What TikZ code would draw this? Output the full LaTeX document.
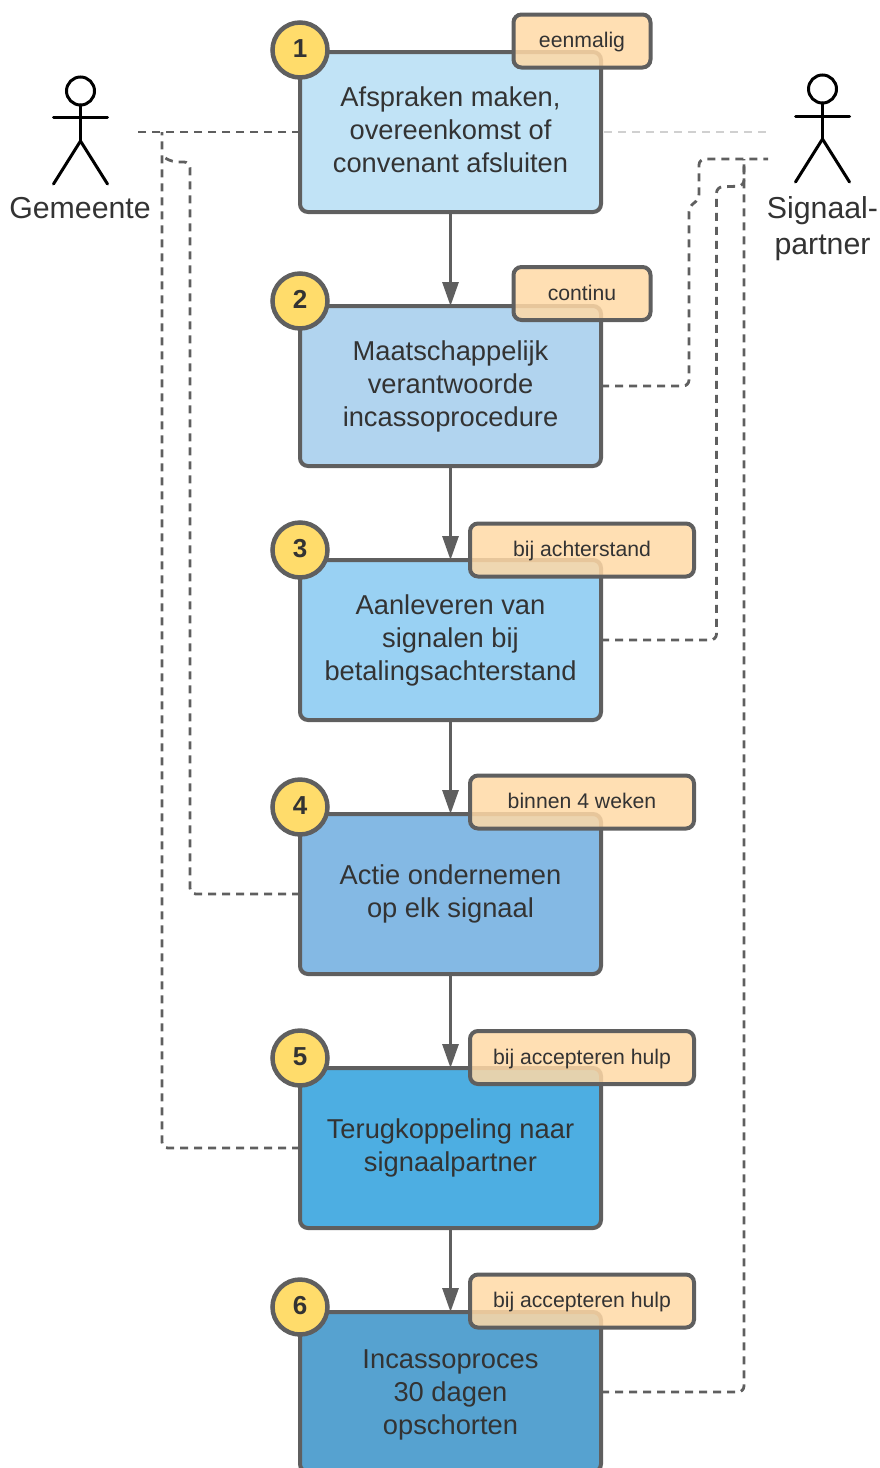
\documentclass[tikz,border=0pt]{standalone}
\usepackage{fontspec}
\setmainfont{Liberation Sans}
\usetikzlibrary{arrows.meta}
\definecolor{edge}{HTML}{5F5F5F}
\definecolor{ink}{HTML}{333333}
\definecolor{tagfill}{HTML}{FFD9A6}
\definecolor{numfill}{HTML}{FFDC6B}
\definecolor{faint}{HTML}{D0D0D0}
\tikzset{
  stepbox/.style={draw=edge,line width=4pt,rounded corners=8pt,minimum width=301pt,minimum height=160pt,
    outer sep=0pt,inner sep=0pt,align=center,text=ink,font=\fontsize{27.3}{33}\selectfont},
  tag/.style={draw=edge,line width=4pt,rounded corners=8pt,fill=tagfill,fill opacity=.85,draw opacity=1,text opacity=1,
    outer sep=0pt,inner sep=0pt,minimum height=53pt,text height=15pt,text depth=2pt,text=ink,font=\fontsize{21.2}{24}\selectfont},
  num/.style={circle,draw=edge,line width=4.5pt,fill=numfill,minimum size=55pt,inner sep=0pt,outer sep=0pt,
    text height=18pt,text depth=4pt,text=ink,font=\fontsize{26}{30}\selectfont\bfseries},
  flow/.style={draw=edge,line width=3pt,-{Triangle[width=16pt,length=24pt,fill=edge]}},
  link/.style={draw=edge,line width=2.8pt,dash pattern=on 8pt off 6pt,rounded corners=6pt},
  lightlink/.style={draw=faint,line width=2.8pt,dash pattern=on 8pt off 6pt},
  stick/.style={draw=black,line width=3pt,line cap=round},
  actor/.style={text=ink,align=center,font=\fontsize{30.3}{36}\selectfont}
}
\begin{document}
\begin{tikzpicture}[x=1pt,y=-1pt]
\useasboundingbox (0,0) rectangle (880,1468);
% process boxes
\node[stepbox,fill={rgb,255:red,193;green,227;blue,246}] (b1) at (450.5,132) {Afspraken maken,\\overeenkomst of\\convenant afsluiten\rule[-4pt]{0pt}{1pt}};
\node[stepbox,fill={rgb,255:red,177;green,212;blue,239}] (b2) at (450.5,386) {Maatschappelijk\\verantwoorde\\incassoprocedure};
\node[stepbox,fill={rgb,255:red,153;green,209;blue,243}] (b3) at (450.5,640) {Aanleveren van\\signalen bij\\betalingsachterstand};
\node[stepbox,fill={rgb,255:red,132;green,185;blue,228}] (b4) at (450.5,894) {Actie ondernemen\\op elk signaal};
\node[stepbox,fill={rgb,255:red,77;green,174;blue,226}] (b5) at (450.5,1148) {Terugkoppeling naar\\signaalpartner};
\node[stepbox,fill={rgb,255:red,86;green,162;blue,208}] (b6) at (450.5,1392) {\rule{0pt}{25pt}Incassoproces\\30 dagen\\opschorten};
% flow
\draw[flow] (b1) -- (b2);
\draw[flow] (b2) -- (b3);
\draw[flow] (b3) -- (b4);
\draw[flow] (b4) -- (b5);
\draw[flow] (b5) -- (b6);
% tags
\node[tag,minimum width=137pt] (t1) at (582,41) {eenmalig};
\node[tag,minimum width=137pt] (t2) at (582,293.5) {continu};
\node[tag,minimum width=224pt] (t3) at (582,550) {bij achterstand};
\node[tag,minimum width=224pt] (t4) at (582,802) {binnen 4 weken};
\node[tag,minimum width=224pt] (t5) at (582,1057.5) {bij accepteren hulp};
\node[tag,minimum width=224pt] (t6) at (582,1301) {bij accepteren hulp};
% numbers
\node[num] (n1) at (300,50) {1};
\node[num] (n2) at (300,301) {2};
\node[num] (n3) at (300,550) {3};
\node[num] (n4) at (300,807) {4};
\node[num] (n5) at (300,1058) {5};
\node[num] (n6) at (300,1307) {6};
% actors
\node[circle,draw=black,line width=3pt,minimum size=28pt,inner sep=0pt,outer sep=0pt] (h1) at (80.5,91) {};
\coordinate (hip1) at (80.5,141);
\coordinate (al1) at (53.5,117);
\coordinate (ar1) at (107.5,117);
\coordinate (ll1) at (53.5,184);
\coordinate (lr1) at (107.5,184);
\draw[stick] (h1.south) -- (hip1);
\draw[stick] (al1) -- (ar1);
\draw[stick] (ll1) -- (hip1) -- (lr1);
\node[actor] (a1) at (80,208) {Gemeente};
\node[circle,draw=black,line width=3pt,minimum size=28pt,inner sep=0pt,outer sep=0pt] (h2) at (822.5,89) {};
\coordinate (hip2) at (822.5,139);
\coordinate (al2) at (795.5,116);
\coordinate (ar2) at (849.5,116);
\coordinate (ll2) at (795.5,182);
\coordinate (lr2) at (849.5,182);
\draw[stick] (h2.south) -- (hip2);
\draw[stick] (al2) -- (ar2);
\draw[stick] (ll2) -- (hip2) -- (lr2);
\node[actor] (a2) at (822.5,228.5) {Signaal-\\partner};
% left connectors
\coordinate (gem) at (135,132);
\coordinate (lj) at (162,132);
\draw[link] (b1.west) -- (gem);
\draw[link] (b5.west) -- (162,1148) -- (lj);
\draw[link] (b4.west) -- (190,894) -- (190,162) -- (172,162) -- (162,156);
% right connectors
\coordinate (sig1) at (768,132);
\coordinate (sig2) at (768,159);
\draw[lightlink] (b1.east) ++(3,0) -- (sig1);
\draw[link] (b2.east) -- (689,386) -- (689,206) -- (699,200) -- (699,159) -- (sig2);
\draw[link] (b3.east) -- (716.5,640) -- (716.5,187) -- (744,186) -- (744,159);
\draw[link] (b6.east) -- (744,1392) -- (744,159);
\end{tikzpicture}
\end{document}
